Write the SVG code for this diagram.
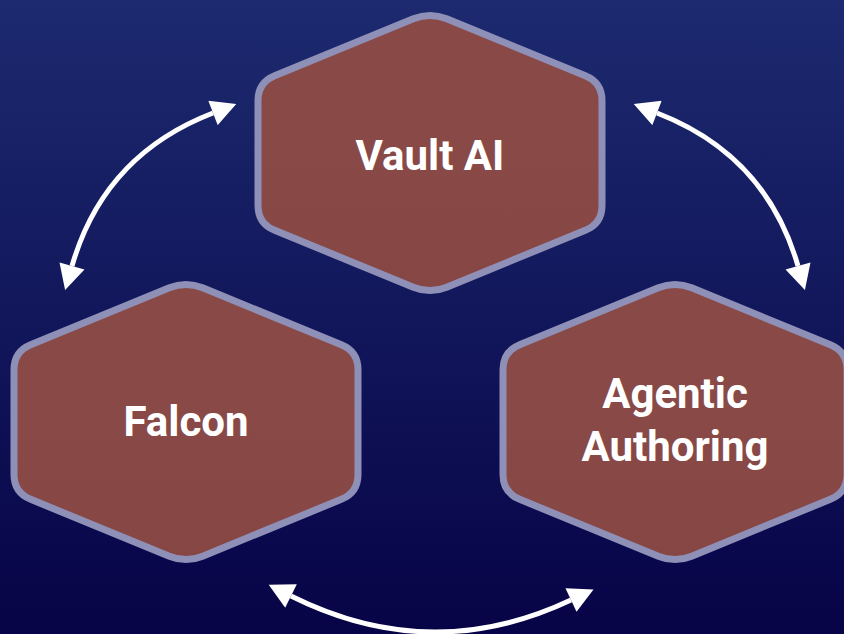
<svg xmlns="http://www.w3.org/2000/svg" xmlns:xlink="http://www.w3.org/1999/xlink" width="844" height="634" viewBox="0 0 844 634">
  <defs>
    <linearGradient id="bg" x1="0" y1="0" x2="0" y2="1">
      <stop offset="0" stop-color="#1d2a6f"/>
      <stop offset="1" stop-color="#070347"/>
    </linearGradient>
    <linearGradient id="hexFill" gradientUnits="userSpaceOnUse" x1="0" y1="0" x2="0" y2="634">
      <stop offset="0" stop-color="#894a47"/>
      <stop offset="1" stop-color="#7c3737"/>
    </linearGradient>
    <!-- rounded hexagon, centred on the origin -->
    <path id="hex" d="M16.65,-134.18 L155.35,-77.32 Q172,-70.5 172,-52.5 L172,52.5 Q172,70.5 155.35,77.32 L16.65,134.18 Q0,141 -16.65,134.18 L-155.35,77.32 Q-172,70.5 -172,52.5 L-172,-52.5 Q-172,-70.5 -155.35,-77.32 L-16.65,-134.18 Q0,-141 16.65,-134.18 Z"/>
    <marker id="head" markerUnits="userSpaceOnUse" markerWidth="26" markerHeight="26" refX="0" refY="12" orient="auto-start-reverse" viewBox="0 0 23 24">
      <path d="M0,0 L23,12 L0,24 Z" fill="#ffffff"/>
    </marker>
  </defs>
  <style>
    .hex { fill: url(#hexFill); stroke: #8f90b7; stroke-width: 7; }
    .label { font-family: Roboto, "Liberation Sans", sans-serif; font-weight: 700; font-size: 42px; fill: #ffffff; text-anchor: middle; }
    .link { fill: none; stroke: #ffffff; stroke-width: 5; marker-start: url(#head); marker-end: url(#head); }
  </style>

  <rect x="0" y="0" width="844" height="634" fill="url(#bg)"/>

  <g id="connectors">
    <path class="link" d="M72,266 Q104,155 213,113"/>
    <path class="link" d="M657,113 Q766,155 798,266"/>
    <path class="link" d="M291,596 Q431,666 571,600"/>
  </g>

  <g id="vault-ai">
    <use href="#hex" xlink:href="#hex" class="hex" transform="translate(430,153)"/>
    <text class="label" x="430" y="170">Vault AI</text>
  </g>

  <g id="falcon">
    <use href="#hex" xlink:href="#hex" class="hex" transform="translate(186,422)"/>
    <text class="label" x="186" y="436">Falcon</text>
  </g>

  <g id="agentic-authoring">
    <use href="#hex" xlink:href="#hex" class="hex" transform="translate(675,422)"/>
    <text class="label" x="675" y="408">Agentic</text>
    <text class="label" x="675" y="461">Authoring</text>
  </g>
</svg>
